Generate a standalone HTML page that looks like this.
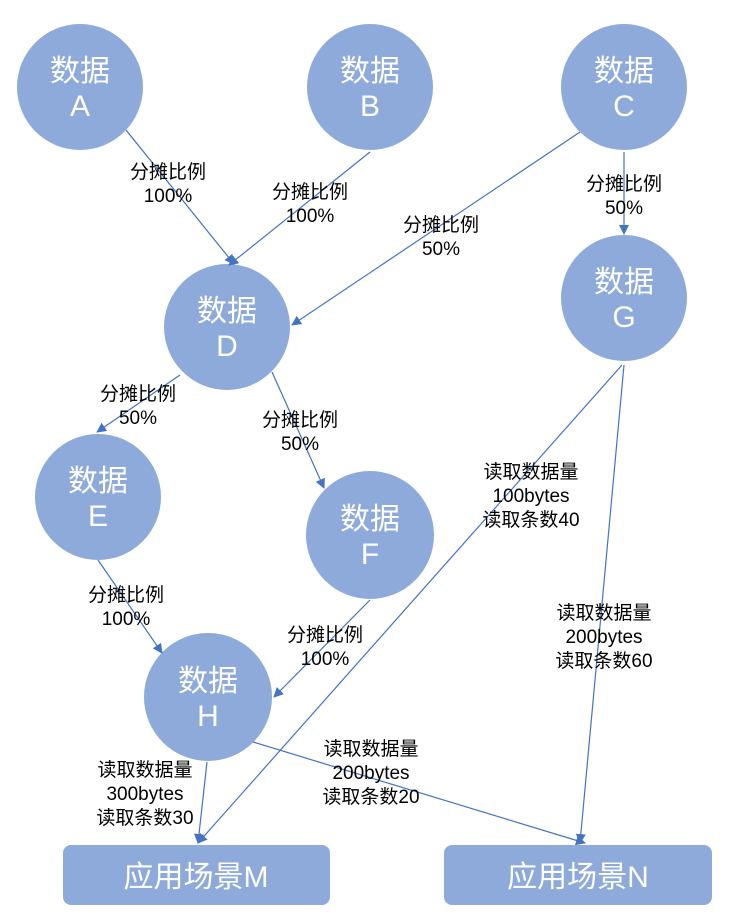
<html><head><style>
body{margin:0;background:#fff;width:751px;height:922px;overflow:hidden;font-family:"Liberation Sans","Noto Sans CJK SC",sans-serif}
</style></head><body>
<svg width="751" height="922" xmlns="http://www.w3.org/2000/svg" style="position:absolute;left:0;top:0">
<defs><marker id="a" markerWidth="10" markerHeight="10" refX="9" refY="5" orient="auto" markerUnits="userSpaceOnUse"><path d="M0,0L10,5L0,10z" fill="#4472C4"/></marker></defs>
<g fill="#8EAADB">
<circle cx="80" cy="87" r="63"/><circle cx="370" cy="87" r="63"/><circle cx="624" cy="87" r="63"/>
<circle cx="227" cy="327" r="63"/><circle cx="624" cy="298" r="63"/>
<circle cx="98" cy="497" r="63"/><circle cx="370" cy="535" r="64"/><circle cx="208" cy="697" r="64"/>
<rect x="63" y="845" width="267" height="60" rx="8"/><rect x="444" y="845" width="268" height="60" rx="8"/>
</g>
<g stroke="#4472C4" stroke-width="1.2" fill="none" marker-end="url(#a)">
<line x1="126" y1="130" x2="234" y2="264"/>
<line x1="370" y1="152" x2="229" y2="265"/>
<line x1="580" y1="132" x2="292" y2="325"/>
<line x1="624" y1="152" x2="624" y2="234"/>
<line x1="180" y1="375" x2="97" y2="432"/>
<line x1="272" y1="372" x2="324" y2="488"/>
<line x1="98" y1="560" x2="162" y2="653"/>
<line x1="370" y1="600" x2="274" y2="697"/>
<line x1="622" y1="365" x2="198" y2="843"/>
<line x1="624" y1="365" x2="580" y2="843"/>
<line x1="207" y1="762" x2="198" y2="843"/>
<line x1="253" y1="742" x2="585" y2="843"/>
</g>
<g fill="#fff" font-size="30" text-anchor="middle">
<text x="80" y="81">数据</text><text x="80" y="116">A</text>
<text x="370" y="81">数据</text><text x="370" y="116">B</text>
<text x="624" y="81">数据</text><text x="624" y="116">C</text>
<text x="227" y="321">数据</text><text x="227" y="356">D</text>
<text x="624" y="292">数据</text><text x="624" y="327">G</text>
<text x="98" y="491">数据</text><text x="98" y="526">E</text>
<text x="370" y="529">数据</text><text x="370" y="564">F</text>
<text x="208" y="691">数据</text><text x="208" y="726">H</text>
<text x="196" y="887">应用场景M</text><text x="578" y="887">应用场景N</text>
</g>
<g fill="#000" font-size="19" text-anchor="middle">
<text x="168" y="178">分摊比例</text><text x="168" y="202">100%</text>
<text x="310" y="198">分摊比例</text><text x="310" y="222">100%</text>
<text x="441" y="231">分摊比例</text><text x="441" y="255">50%</text>
<text x="624" y="190">分摊比例</text><text x="624" y="214">50%</text>
<text x="138" y="400">分摊比例</text><text x="138" y="424">50%</text>
<text x="300" y="426">分摊比例</text><text x="300" y="450">50%</text>
<text x="126" y="601">分摊比例</text><text x="126" y="625">100%</text>
<text x="325" y="641">分摊比例</text><text x="325" y="665">100%</text>
<text x="531" y="478">读取数据量</text><text x="531" y="502">100bytes</text><text x="531" y="526">读取条数40</text>
<text x="604" y="619">读取数据量</text><text x="604" y="643">200bytes</text><text x="604" y="667">读取条数60</text>
<text x="145" y="776">读取数据量</text><text x="145" y="800">300bytes</text><text x="145" y="824">读取条数30</text>
<text x="371" y="755">读取数据量</text><text x="371" y="779">200bytes</text><text x="371" y="803">读取条数20</text>
</g>
</svg>
</body></html>
